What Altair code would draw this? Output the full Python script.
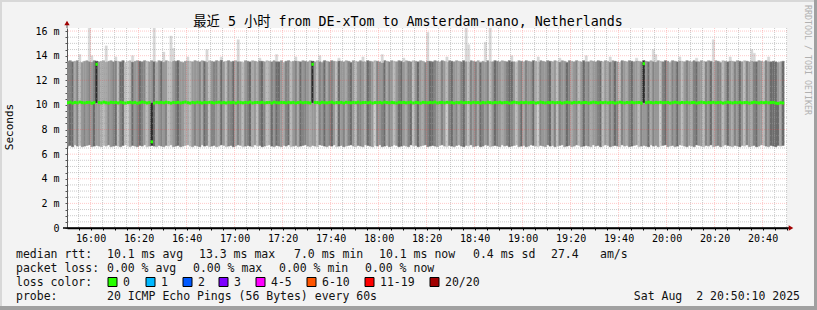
import altair as alt
import pandas as pd

# ---------------- data ----------------
FIRST_MINUTE = 950                      # 15:50 -> first one-minute smoke column
WINDOW = [950 + 10 / 60, 1250 + 10 / 60]  # 15:50:10 .. 20:50:10
SPLIT = 10.15                            # where upper/lower smoke shading meet

# grey level of each minute column above the median (0 light .. 6 dark)
U_SHADE = [
    4, 4, 5, 2, 4, 1, 3, 3, 3, 4, 3, 4, 6, 3, 2, 2, 2, 3, 3, 4,
    4, 1, 5, 5, 1, 0, 1, 5, 3, 3, 5, 4, 4, 1, 3, 3, 5, 2, 3, 5,
    3, 3, 1, 1, 3, 4, 5, 3, 3, 3, 2, 1, 3, 3, 3, 4, 2, 5, 3, 1,
    3, 4, 4, 2, 5, 3, 1, 4, 3, 5, 2, 4, 3, 1, 3, 4, 5, 2, 3, 2,
    4, 5, 3, 1, 2, 4, 3, 5, 5, 3, 2, 4, 4, 1, 3, 4, 2, 5, 3, 4,
    3, 2, 6, 3, 1, 4, 3, 5, 2, 4, 4, 3, 1, 5, 3, 3, 2, 4, 5, 3,
    1, 3, 4, 3, 2, 5, 4, 3, 1, 4, 3, 3, 5, 2, 4, 3, 1, 3, 4, 5,
    3, 2, 4, 4, 1, 3, 5, 3, 2, 4, 3, 5, 5, 4, 3, 2, 4, 3, 1, 4,
    5, 3, 3, 2, 4, 5, 3, 1, 4, 3, 4, 2, 5, 3, 3, 4, 1, 3, 5, 4,
    3, 2, 3, 4, 5, 5, 3, 1, 3, 4, 2, 4, 3, 3, 5, 2, 1, 4, 3, 3,
    4, 5, 2, 3, 1, 4, 3, 3, 5, 4, 2, 3, 4, 1, 3, 5, 3, 4, 2, 3,
    3, 4, 5, 1, 3, 2, 4, 3, 5, 3, 1, 4, 3, 2, 4, 5, 3, 3, 2, 4,
    6, 3, 5, 2, 4, 3, 3, 1, 4, 5, 3, 2, 4, 3, 5, 3, 1, 3, 4, 3,
    2, 4, 5, 3, 3, 1, 4, 3, 5, 2, 3, 4, 4, 1, 3, 5, 3, 2, 4, 3,
    5, 3, 1, 4, 3, 2, 4, 5, 3, 3, 1, 4, 3, 5, 5, 5, 3, 2, 5,
]
# grey level of each minute column below the median
L_SHADE = [
    4, 5, 5, 2, 4, 1, 3, 4, 3, 4, 3, 5, 3, 3, 2, 1, 2, 4, 3, 4,
    5, 1, 4, 5, 1, 0, 2, 5, 3, 4, 5, 4, 3, 1, 3, 6, 5, 2, 3, 4,
    3, 4, 1, 2, 3, 4, 5, 4, 3, 2, 2, 1, 3, 4, 3, 4, 2, 5, 4, 1,
    4, 4, 3, 2, 5, 3, 1, 4, 4, 5, 2, 4, 3, 1, 4, 4, 5, 2, 3, 1,
    4, 5, 4, 1, 2, 5, 3, 5, 4, 3, 2, 4, 5, 1, 3, 4, 2, 5, 4, 4,
    3, 2, 3, 3, 1, 4, 3, 5, 3, 4, 5, 3, 1, 5, 3, 4, 2, 4, 5, 3,
    1, 4, 4, 3, 2, 5, 4, 3, 0, 4, 3, 4, 5, 2, 4, 3, 1, 3, 5, 5,
    3, 2, 4, 5, 1, 3, 5, 3, 2, 4, 4, 5, 5, 4, 3, 2, 4, 3, 0, 4,
    5, 3, 4, 2, 4, 5, 3, 1, 4, 3, 4, 2, 5, 4, 3, 4, 1, 3, 5, 4,
    3, 2, 3, 4, 5, 4, 3, 1, 3, 5, 2, 4, 3, 3, 5, 2, 0, 4, 3, 3,
    4, 5, 2, 4, 1, 4, 3, 3, 5, 4, 2, 3, 4, 1, 3, 5, 3, 4, 2, 3,
    3, 4, 5, 1, 3, 2, 4, 3, 5, 4, 1, 4, 3, 2, 4, 5, 3, 3, 1, 4,
    3, 3, 5, 2, 4, 3, 3, 0, 4, 5, 3, 2, 4, 3, 5, 3, 1, 3, 4, 3,
    2, 4, 5, 3, 3, 1, 4, 3, 5, 2, 3, 4, 4, 1, 3, 5, 3, 2, 4, 3,
    5, 3, 1, 4, 3, 2, 4, 5, 3, 3, 1, 4, 3, 5, 5, 5, 5, 2, 5,
]
# slowest ping of each minute (ms)
HI = [
    13.55, 13.6, 13.5, 13.55, 13.6, 13.5, 13.45, 13.55, 13.6, 13.55, 13.5, 13.6, 13.55, 13.5, 13.55, 13.6, 13.5, 13.55, 13.6, 13.5,
    13.6, 13.55, 13.5, 13.6, 13.45, 13.55, 13.6, 13.5, 13.55, 13.6, 13.55, 13.5, 13.6, 13.55, 13.5, 13.6, 13.55, 13.45, 13.6, 13.55,
    13.5, 13.6, 13.55, 13.5, 13.6, 13.55, 13.6, 13.5, 13.45, 13.55, 13.6, 13.55, 13.5, 13.6, 13.55, 13.5, 13.6, 13.55, 13.5, 13.6,
    13.55, 13.5, 13.6, 13.55, 13.65, 13.5, 13.55, 13.6, 13.5, 13.55, 13.6, 13.55, 13.5, 13.45, 13.6, 13.55, 13.5, 13.6, 13.55, 13.5,
    13.6, 13.55, 13.5, 13.6, 13.55, 13.5, 13.6, 13.55, 13.5, 13.6, 13.45, 13.55, 13.6, 13.5, 13.55, 13.6, 13.55, 13.5, 13.6, 13.55,
    13.5, 13.6, 13.55, 13.5, 13.6, 13.55, 13.45, 13.6, 13.55, 13.5, 13.6, 13.55, 13.5, 13.6, 13.55, 13.5, 13.6, 13.55, 13.45, 13.6,
    13.55, 13.5, 13.6, 13.55, 13.5, 13.6, 13.55, 13.5, 13.6, 13.55, 13.5, 13.45, 13.6, 13.55, 13.5, 13.6, 13.55, 13.5, 13.6, 13.55,
    13.5, 13.6, 13.55, 13.5, 13.6, 13.55, 13.5, 13.6, 13.55, 13.45, 13.6, 13.55, 13.5, 13.6, 13.55, 13.5, 13.6, 13.55, 13.5, 13.6,
    13.55, 13.5, 13.6, 13.55, 13.5, 13.6, 13.55, 13.5, 13.6, 13.55, 13.5, 13.6, 13.45, 13.55, 13.5, 13.6, 13.55, 13.5, 13.6, 13.55,
    13.5, 13.6, 13.55, 13.5, 13.6, 13.55, 13.5, 13.45, 13.6, 13.55, 13.5, 13.6, 13.55, 13.5, 13.6, 13.55, 13.5, 13.6, 13.55, 13.5,
    13.6, 13.55, 13.5, 13.6, 13.55, 13.5, 13.6, 13.55, 13.45, 13.6, 13.55, 13.5, 13.6, 13.55, 13.5, 13.6, 13.55, 13.5, 13.6, 13.55,
    13.5, 13.6, 13.55, 13.5, 13.6, 13.55, 13.5, 13.6, 13.55, 13.5, 13.45, 13.6, 13.55, 13.5, 13.6, 13.55, 13.5, 13.6, 13.55, 13.5,
    13.6, 13.55, 13.5, 13.6, 13.55, 13.5, 13.6, 13.55, 13.5, 13.6, 13.55, 13.45, 13.6, 13.55, 13.5, 13.6, 13.55, 13.5, 13.6, 13.55,
    13.5, 13.6, 13.55, 13.5, 13.6, 13.55, 13.5, 13.6, 13.55, 13.5, 13.6, 13.55, 13.45, 13.6, 13.55, 13.5, 13.6, 13.55, 13.5, 13.6,
    13.55, 13.5, 13.6, 13.55, 13.5, 13.6, 13.55, 13.5, 13.6, 13.55, 13.5, 13.6, 13.55, 13.5, 13.55, 13.5, 13.45, 13.5, 13.55,
]
# fastest ping of each minute (ms)
LO = [
    6.65, 6.7, 6.6, 6.75, 6.65, 6.7, 6.6, 6.65, 6.7, 6.75, 6.6, 6.65, 6.7, 6.65, 6.6, 6.7, 6.65, 6.75, 6.6, 6.65,
    6.7, 6.65, 6.6, 6.7, 6.75, 6.65, 6.6, 6.7, 6.65, 6.6, 6.7, 6.65, 6.75, 6.6, 6.65, 6.7, 6.65, 6.6, 6.7, 6.65,
    6.6, 6.7, 6.65, 6.75, 6.6, 6.65, 6.7, 6.6, 6.65, 6.7, 6.75, 6.65, 6.6, 6.7, 6.65, 6.6, 6.75, 6.65, 6.7, 6.6,
    6.65, 6.7, 6.6, 6.65, 6.75, 6.7, 6.6, 6.65, 6.7, 6.6, 6.65, 6.75, 6.7, 6.6, 6.65, 6.7, 6.65, 6.6, 6.75, 6.65,
    6.7, 6.6, 6.65, 6.7, 6.75, 6.65, 6.6, 6.7, 6.65, 6.6, 6.7, 6.65, 6.75, 6.6, 6.65, 6.7, 6.6, 6.65, 6.7, 6.75,
    6.65, 6.6, 6.7, 6.65, 6.6, 6.75, 6.7, 6.65, 6.6, 6.7, 6.65, 6.75, 6.6, 6.65, 6.7, 6.6, 6.65, 6.7, 6.75, 6.65,
    6.6, 6.7, 6.65, 6.6, 6.75, 6.7, 6.65, 6.6, 6.7, 6.65, 6.75, 6.6, 6.65, 6.7, 6.6, 6.65, 6.75, 6.7, 6.6, 6.65,
    6.7, 6.65, 6.6, 6.75, 6.65, 6.7, 6.6, 6.65, 6.7, 6.75, 6.6, 6.65, 6.7, 6.65, 6.6, 6.7, 6.75, 6.65, 6.6, 6.7,
    6.65, 6.6, 6.7, 6.75, 6.65, 6.6, 6.7, 6.65, 6.75, 6.6, 6.65, 6.7, 6.6, 6.65, 6.75, 6.7, 6.6, 6.65, 6.7, 6.65,
    6.6, 6.75, 6.65, 6.7, 6.6, 6.65, 6.7, 6.75, 6.6, 6.65, 6.7, 6.6, 6.65, 6.75, 6.7, 6.65, 6.6, 6.7, 6.65, 6.6,
    6.75, 6.65, 6.7, 6.6, 6.65, 6.7, 6.75, 6.6, 6.65, 6.7, 6.6, 6.65, 6.75, 6.7, 6.6, 6.65, 6.7, 6.65, 6.6, 6.75,
    6.65, 6.7, 6.6, 6.65, 6.75, 6.7, 6.6, 6.65, 6.7, 6.65, 6.6, 6.75, 6.65, 6.7, 6.6, 6.65, 6.7, 6.75, 6.6, 6.65,
    6.7, 6.65, 6.6, 6.75, 6.65, 6.7, 6.6, 6.65, 6.7, 6.75, 6.6, 6.65, 6.7, 6.6, 6.65, 6.75, 6.7, 6.65, 6.6, 6.7,
    6.65, 6.6, 6.75, 6.7, 6.65, 6.6, 6.7, 6.65, 6.75, 6.6, 6.65, 6.7, 6.6, 6.65, 6.75, 6.7, 6.65, 6.6, 6.7, 6.65,
    6.6, 6.7, 6.65, 6.75, 6.6, 6.65, 6.7, 6.6, 6.65, 6.75, 6.7, 6.65, 6.6, 6.7, 6.65, 6.6, 6.7, 6.65, 6.7,
]
# median rtt of each minute (ms)
MED = [
    10.18, 10.22, 10.15, 10.2, 10.17, 10.23, 10.19, 10.16, 10.2, 10.21, 10.14, 10.19, 13.3, 10.2, 10.17, 10.22, 10.18, 10.15, 10.21, 10.19,
    10.2, 10.16, 10.22, 10.18, 10.15, 10.19, 10.21, 10.17, 10.2, 10.14, 10.18, 10.23, 10.2, 10.16, 10.19, 7.0, 10.15, 10.21, 10.18, 10.2,
    10.17, 10.22, 10.19, 10.15, 10.2, 10.18, 10.21, 10.16, 10.19, 10.23, 10.18, 10.15, 10.2, 10.17, 10.22, 10.19, 10.16, 10.2, 10.18, 10.21,
    10.19, 10.15, 10.2, 10.22, 10.17, 10.19, 10.16, 10.21, 10.18, 10.2, 10.15, 10.22, 10.19, 10.17, 10.2, 10.18, 10.23, 10.16, 10.19, 10.2,
    10.18, 10.21, 10.16, 10.19, 10.2, 10.15, 10.22, 10.18, 10.17, 10.2, 10.19, 10.16, 10.21, 10.18, 10.2, 10.15, 10.19, 10.22, 10.17, 10.2,
    10.18, 10.16, 13.3, 10.2, 10.19, 10.15, 10.21, 10.18, 10.17, 10.2, 10.22, 10.16, 10.19, 10.18, 10.2, 10.15, 10.21, 10.19, 10.17, 10.2,
    10.18, 10.22, 10.16, 10.19, 10.2, 10.17, 10.21, 10.15, 10.19, 10.18, 10.2, 10.16, 10.22, 10.19, 10.17, 10.2, 10.18, 10.15, 10.21, 10.19,
    10.2, 10.17, 10.19, 10.22, 10.16, 10.2, 10.18, 10.15, 10.21, 10.19, 10.17, 10.2, 10.18, 10.23, 10.16, 10.19, 10.2, 10.17, 10.21, 10.18,
    10.19, 10.15, 10.2, 10.18, 10.22, 10.17, 10.19, 10.2, 10.16, 10.21, 10.18, 10.19, 10.15, 10.2, 10.17, 10.22, 10.19, 10.16, 10.2, 10.18,
    10.21, 10.17, 10.19, 10.2, 10.15, 10.18, 10.22, 10.19, 10.16, 10.2, 10.18, 10.21, 10.17, 10.19, 10.2, 10.15, 10.18, 10.22, 10.19, 10.16,
    10.2, 10.18, 10.21, 10.17, 10.19, 10.2, 10.15, 10.18, 10.22, 10.19, 10.16, 10.2, 10.18, 10.21, 10.17, 10.19, 10.2, 10.15, 10.18, 10.22,
    10.19, 10.16, 10.2, 10.18, 10.21, 10.17, 10.19, 10.2, 10.15, 10.18, 10.22, 10.19, 10.16, 10.2, 10.18, 10.21, 10.17, 10.19, 10.2, 10.15,
    13.35, 10.18, 10.22, 10.19, 10.16, 10.2, 10.18, 10.21, 10.17, 10.19, 10.2, 10.15, 10.18, 10.22, 10.19, 10.16, 10.2, 10.18, 10.21, 10.17,
    10.19, 10.2, 10.15, 10.18, 10.22, 10.19, 10.16, 10.2, 10.18, 10.21, 10.17, 10.19, 10.2, 10.15, 10.18, 10.22, 10.19, 10.16, 10.2, 10.18,
    10.21, 10.17, 10.19, 10.2, 10.15, 10.18, 10.22, 10.19, 10.16, 10.2, 10.18, 10.21, 10.17, 10.19, 10.2, 10.15, 10.12, 10.18, 10.16,
]
# outlier pings above the main smoke band: column index and top value (ms)
SPIKE_IDX = [5, 9, 10, 16, 20, 27, 36, 40, 43, 44, 50, 58, 64, 71, 80, 87, 95, 105, 113, 123, 131, 140,
             150, 158, 166, 167, 174, 176, 185, 196, 205, 216, 226, 237, 244, 245, 255, 262, 269, 276, 285, 286, 292]
SPIKE_TOP = [14.1, 16.4, 14.0, 14.8, 13.9, 14.0, 16.3, 14.3, 15.6, 14.6, 13.9, 14.5, 13.9, 15.3, 13.8, 14.1, 13.9, 14.0, 13.8, 13.9, 14.1, 13.8,
             15.9, 13.9, 16.4, 14.9, 15.1, 16.3, 14.0, 13.9, 13.8, 14.0, 13.9, 13.8, 14.5, 14.1, 13.9, 13.8, 15.3, 13.9, 14.5, 14.2, 13.9]

Y_TICKS = [i * 0.5 for i in range(0, 33)]
X_TICKS = list(range(955, 1251, 5))

TITLE = "最近 5 小时 from DE-xTom to Amsterdam-nano, Netherlands"
LEGEND_TEXT = [
    (16, 254, "median rtt:"), (107, 254, "10.1 ms avg"), (199, 254, "13.3 ms max"),
    (294, 254, "7.0 ms min"), (379, 254, "10.1 ms now"), (473, 254, "0.4 ms sd"),
    (551, 254, "27.4"), (600, 254, "am/s"),
    (16, 268, "packet loss:"), (107, 268, "0.00 % avg"), (193, 268, "0.00 % max"),
    (279, 268, "0.00 % min"), (365, 268, "0.00 % now"),
    (16, 282, "loss color:"),
    (16, 296, "probe:"), (107, 296, "20 ICMP Echo Pings (56 Bytes) every 60s"),
]
LOSS_LABELS = ["0", "1", "2", "3", "4-5", "6-10", "11-19", "20/20"]
LOSS_COLORS = ["#26ff00", "#00b8ff", "#0059ff", "#7e00ff", "#ff00ff", "#ff5500", "#ff0000", "#a10000"]
LOSS_BOX_X = [108, 146, 183, 219, 256, 307, 365, 430]
STAMP = "Sat Aug\u00a0\u00a02 20:50:10 2025"

# ---------------- styling ----------------
OX, OY = 67, 28           # plot origin inside the 817x310 picture
PW, PH = 720, 200
MONO = "DejaVu Sans Mono, Noto Sans CJK SC"
SHADE_KEYS = ["0", "1", "2", "3", "4", "5", "6", "s"]
SHADE_COLS = ["#cdcdcd", "#bcbcbc", "#aaaaaa", "#989898", "#848484", "#6c6c6c", "#2a2a2a", "#d8d8d8"]

# ---------------- tables ----------------
rows = []
for i in range(len(MED)):
    m = FIRST_MINUTE + i
    rows.append({"m": m, "m2": m + 1, "y1": SPLIT, "y2": HI[i], "shade": str(U_SHADE[i])})
    rows.append({"m": m, "m2": m + 1, "y1": LO[i], "y2": SPLIT, "shade": str(L_SHADE[i])})
for idx, top in zip(SPIKE_IDX, SPIKE_TOP):
    m = FIRST_MINUTE + idx
    rows.append({"m": m, "m2": m + 1, "y1": HI[idx], "y2": top, "shade": "s"})
smoke_df = pd.DataFrame(rows)
med_df = pd.DataFrame({"m": [FIRST_MINUTE + i for i in range(len(MED))],
                       "m2": [FIRST_MINUTE + i + 1 for i in range(len(MED))],
                       "y1": MED})

xs = alt.Scale(domain=WINDOW, nice=False, zero=False)
ys = alt.Scale(domain=[0, 16.25], nice=False, zero=False)
cs = alt.Scale(domain=SHADE_KEYS, range=SHADE_COLS)

x_axis = alt.Axis(
    values=X_TICKS, title=None, grid=False, tickSize=2, tickColor="#000", domainColor="#000",
    domainWidth=1.5,
    labelExpr="datum.value % 20 == 0 ? (floor(datum.value / 60) + ':' + (datum.value % 60 < 10 ? '0' : '') + (datum.value % 60)) : ''",
    labelFont=MONO, labelFontSize=10, labelColor="#000", labelPadding=3,
    labelFlush=False, labelOverlap=False, labelAngle=0,
)
y_axis = alt.Axis(
    values=Y_TICKS, title=None, grid=False, tickSize=2, tickColor="#555", domainColor="#555",
    labelExpr="datum.value % 2 == 0 ? (datum.value == 0 ? '0\u00a0\u00a0' : datum.value + ' m') : ''",
    labelFont=MONO, labelFontSize=10, labelColor="#000", labelPadding=6,
    labelFlush=False, labelOverlap=False, labelBaseline="middle",
)
X = lambda f: alt.X(f, scale=xs, axis=x_axis)
Y = lambda f: alt.Y(f, scale=ys, axis=y_axis)

smoke = alt.Chart(smoke_df).mark_rect(clip=True, strokeWidth=0.4).encode(
    x=X("m:Q"), x2="m2:Q", y=Y("y1:Q"), y2="y2:Q",
    color=alt.Color("shade:N", scale=cs, legend=None),
    stroke=alt.Stroke("shade:N", scale=cs, legend=None),
)

minor_y = [v for v in Y_TICKS if v % 2 != 0]
major_y = [v for v in Y_TICKS if v % 2 == 0 and v > 0]
minor_x = [v for v in X_TICKS if v % 20 != 0]
major_x = [v for v in X_TICKS if v % 20 == 0]

grid_minor_y = alt.Chart(pd.DataFrame({"y1": minor_y})).mark_rule(
    color="#9a9a9a", opacity=0.5, strokeDash=[1, 1]).encode(y=Y("y1:Q"))
grid_major_y = alt.Chart(pd.DataFrame({"y1": major_y})).mark_rule(
    color="#ff4040", opacity=0.28, strokeDash=[1, 1]).encode(y=Y("y1:Q"))
grid_minor_x = alt.Chart(pd.DataFrame({"m": minor_x})).mark_rule(
    color="#9a9a9a", opacity=0.5, strokeDash=[1, 1]).encode(x=X("m:Q"))
grid_major_x = alt.Chart(pd.DataFrame({"m": major_x})).mark_rule(
    color="#ff4040", opacity=0.28, strokeDash=[1, 1]).encode(x=X("m:Q"))

median = alt.Chart(med_df).mark_rule(color="#26ff00", strokeWidth=3, clip=True).encode(
    x=X("m:Q"), x2="m2:Q", y=Y("y1:Q"))

one = pd.DataFrame({"k": [0]})


def box(x1, y1, x2, y2, fill, stroke=None):
    kw = {"fill": fill}
    if stroke:
        kw["stroke"] = stroke
        kw["strokeWidth"] = 1
    return alt.Chart(one).mark_rect(**kw).encode(
        x=alt.value(x1 - OX), x2=alt.value(x2 - OX), y=alt.value(y1 - OY), y2=alt.value(y2 - OY))


def label(x, y, text, size=11.5, align="left", color="#111", angle=None, font=MONO):
    kw = dict(font=font, fontSize=size, align=align, baseline="middle", color=color)
    if angle is not None:
        kw["angle"] = angle
    return alt.Chart(one).mark_text(**kw).encode(
        x=alt.value(x - OX), y=alt.value(y - OY), text=alt.value(text))


deco = [
    box(0, 0, 817, 2, "#d8d8d8"),
    box(0, 0, 2, 310, "#d8d8d8"),
    box(814, 0, 817, 310, "#a0a0a0"),
    box(0, 306, 817, 310, "#a0a0a0"),
    label(408, 21.5, TITLE, size=13.3, align="center", color="#000"),
    label(10, 127, "Seconds", size=11, align="center", color="#000", angle=270),
    label(807, 5, "RRDTOOL / TOBI OETIKER", size=8.3, color="#b0b0b0", angle=90),
    label(800, 296.5, STAMP, align="right"),
    # axis extensions and arrow heads
    alt.Chart(one).mark_rule(color="#555").encode(x=alt.value(0), y=alt.value(-4), y2=alt.value(0)),
    alt.Chart(one).mark_rule(color="#000", strokeWidth=1.5).encode(
        x=alt.value(-4), x2=alt.value(PW + 2), y=alt.value(PH)),
    alt.Chart(one).mark_point(shape="triangle-up", filled=True, size=28, color="#a00000", opacity=1).encode(
        x=alt.value(0), y=alt.value(-5)),
    alt.Chart(one).mark_point(shape="triangle-right", filled=True, size=28, color="#a00000", opacity=1).encode(
        x=alt.value(PW + 4), y=alt.value(PH)),
]
for x, y, t in LEGEND_TEXT:
    deco.append(label(x, y + 0.5, t))
for bx, lab, col in zip(LOSS_BOX_X, LOSS_LABELS, LOSS_COLORS):
    deco.append(box(bx, 277.5, bx + 9, 286.5, col, stroke="#000"))
    deco.append(label(bx + 15, 282.5, lab))

chart = alt.layer(
    smoke, grid_minor_y, grid_minor_x, grid_major_y, grid_major_x, median, *deco
).properties(
    width=PW, height=PH,
    padding={"left": OX, "top": OY, "right": 817 - OX - PW, "bottom": 310 - OY - PH},
    autosize=alt.AutoSizeParams(type="none"),
    background="#f3f3f3",
).configure_view(fill="white", stroke=None)

chart.save("out.html", embed_options={"renderer": "svg", "actions": False})
